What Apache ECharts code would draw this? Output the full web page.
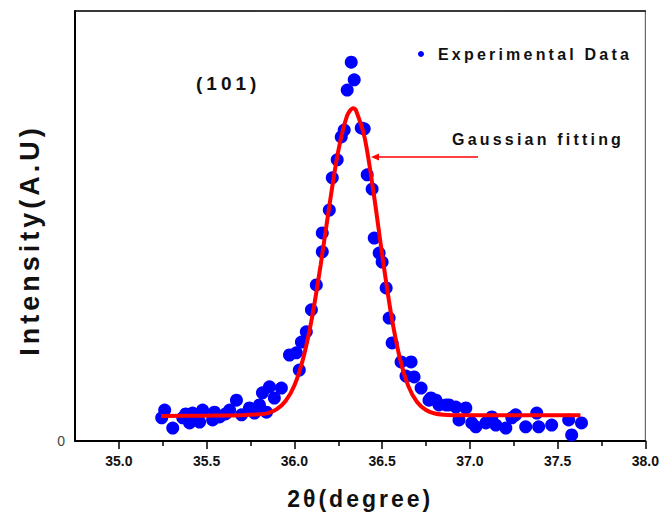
<!DOCTYPE html>
<html>
<head>
<meta charset="utf-8">
<script src="https://cdn.jsdelivr.net/npm/echarts@6/dist/echarts.min.js"></script>
<style>
  html, body { margin: 0; padding: 0; background: #fff; }
  #main { width: 662px; height: 515px; }
  /* Origin-style wide lettering */
  #main text[style*="16px"] { letter-spacing: 3.2px; }
  #main text[style*="23px"] { letter-spacing: 3px; }
  #main text[style*="27px"] { letter-spacing: 4px; }
  #main text[style*="19px"] { letter-spacing: 4px; }
</style>
</head>
<body>
<div id="main"></div>
<script>
// experimental points (2theta, intensity)
var expX = [35.244, 35.261, 35.307, 35.364, 35.381, 35.403, 35.420, 35.460, 35.477, 35.534,
    35.545, 35.574, 35.608, 35.631, 35.670, 35.699, 35.744, 35.773, 35.801, 35.818,
    35.841, 35.858, 35.886, 35.926, 35.972, 36.011, 36.028, 36.040, 36.068, 36.097,
    36.125, 36.159, 36.159, 36.199, 36.216, 36.244, 36.267, 36.284, 36.301, 36.324,
    36.341, 36.381, 36.398, 36.415, 36.443, 36.455, 36.483, 36.500, 36.523, 36.540,
    36.557, 36.608, 36.636, 36.665, 36.682, 36.722, 36.767, 36.778, 36.807, 36.824,
    36.864, 36.881, 36.920, 36.938, 36.977, 37.011, 37.034, 37.091, 37.125, 37.148,
    37.205, 37.239, 37.261, 37.318, 37.381, 37.392, 37.466, 37.563, 37.580, 37.636];
var expY = [5.4, 7.2, 3.0, 5.4, 6.3, 4.2, 6.5, 4.4, 7.2, 4.9,
    6.7, 5.6, 6.3, 7.2, 9.5, 6.1, 7.7, 6.5, 8.4, 11.2,
    6.7, 12.6, 10.0, 12.3, 20.0, 20.5, 16.5, 23.0, 25.4, 30.5,
    36.3, 44.0, 48.4, 53.7, 61.2, 65.4, 70.7, 72.3, 81.6, 88.1,
    84.0, 72.8, 72.6, 61.9, 58.6, 47.2, 43.7, 41.6, 35.6, 28.6,
    22.8, 18.4, 15.1, 18.4, 14.9, 12.3, 9.5, 10.0, 9.5, 8.4,
    8.4, 8.4, 7.9, 4.9, 7.7, 4.2, 3.3, 4.2, 5.6, 3.7,
    3.0, 5.4, 6.1, 3.3, 6.5, 3.3, 3.7, 4.9, 1.4, 4.2];

// gaussian fit curve
var fitX = [35.24, 35.5, 35.7, 35.8, 35.85, 35.9, 35.95, 36.0, 36.05, 36.1,
    36.15, 36.2, 36.25, 36.3, 36.335, 36.35, 36.4, 36.45, 36.5, 36.55,
    36.6, 36.65, 36.7, 36.75, 36.8, 36.85, 36.9, 37.0, 37.3, 37.63];
var fitY = [5.8, 5.9, 6.0, 6.2, 6.5, 7.4, 9.3, 12.9, 19.2, 28.6,
    41.0, 54.9, 67.4, 75.6, 77.4, 77.0, 70.6, 58.1, 43.4, 29.8,
    19.4, 12.7, 9.0, 7.2, 6.4, 6.1, 6.0, 6.0, 6.0, 6.0];

var xMajor = [35.0, 35.5, 36.0, 36.5, 37.0, 37.5, 38.0];
var xMinor = [35.25, 35.75, 36.25, 36.75, 37.25, 37.75];

var expData = expX.map(function (x, i) { return [x, expY[i]]; });
var fitData = fitX.map(function (x, i) { return [x, fitY[i]]; });

var FONT = "'Liberation Sans', Arial, sans-serif";

var chart = echarts.init(document.getElementById('main'), null, { renderer: 'svg' });
var option = {
    animation: false,
    grid: {
        left: 75, right: 14, top: 11, bottom: 74,
        show: true, borderColor: '#666', borderWidth: 1.2
    },
    legend: {
        data: ['Experimental Data'],
        left: 413, top: 41,
        icon: 'circle',
        itemWidth: 6, itemHeight: 6,
        itemGap: 0,
        textStyle: {
            fontFamily: FONT, fontWeight: 'bold', fontSize: 16, color: '#111',
            padding: [0, 0, 0, 9]
        }
    },
    xAxis: [{
        type: 'value',
        min: 34.75, max: 38,
        name: '2θ(degree)',
        nameLocation: 'middle',
        nameGap: 46,
        nameTextStyle: { fontFamily: FONT, fontWeight: 'bold', fontSize: 23, color: '#111' },
        axisLine: { onZero: false, lineStyle: { color: '#000', width: 2 } },
        axisTick: { show: true, length: 8, customValues: xMajor, lineStyle: { color: '#000', width: 1.5 } },
        axisLabel: {
            customValues: xMajor,
            margin: 13,
            fontFamily: FONT, fontWeight: 'bold', fontSize: 14, color: '#111',
            formatter: function (v) { return v.toFixed(1); }
        },
        splitLine: { show: false }
    }, {
        type: 'value',
        min: 34.75, max: 38,
        position: 'bottom',
        axisLine: { show: false },
        axisTick: { show: true, length: 5, customValues: xMinor, lineStyle: { color: '#000', width: 1.5 } },
        axisLabel: { show: false },
        splitLine: { show: false }
    }, {
        type: 'value',
        min: 34.75, max: 38,
        position: 'top',
        axisLine: { show: true, onZero: false, lineStyle: { color: '#111', width: 1.5 } },
        axisTick: { show: false },
        axisLabel: { show: false },
        splitLine: { show: false }
    }],
    yAxis: {
        type: 'value',
        min: 0, max: 100,
        axisLine: { show: true, lineStyle: { color: '#000', width: 2 } },
        axisTick: { show: false },
        axisLabel: {
            customValues: [0],
            margin: 10,
            fontFamily: FONT, fontSize: 14, color: '#444'
        },
        splitLine: { show: false }
    },
    graphic: [
        {
            type: 'text', left: 196, top: 74,
            style: { text: '(101)', font: "bold 19px 'Liberation Sans', Arial", fill: '#111' }
        },
        {
            type: 'text', left: 452, top: 131,
            style: { text: 'Gaussian fitting', font: "bold 16px 'Liberation Sans', Arial", fill: '#111' }
        },
        {
            type: 'text', x: 30, y: 240, rotation: Math.PI / 2,
            style: {
                text: 'Intensity(A.U)', font: "bold 27px 'Liberation Sans', Arial", fill: '#111',
                align: 'center', verticalAlign: 'middle'
            }
        },
        {
            type: 'line',
            shape: { x1: 478, y1: 157, x2: 378, y2: 157 },
            style: { stroke: '#ff0000', lineWidth: 1.5 }
        },
        {
            type: 'polygon',
            shape: { points: [[371, 157], [379, 153.5], [379, 160.5]] },
            style: { fill: '#ff0000' }
        }
    ],
    series: [
        {
            name: 'Experimental Data',
            type: 'scatter',
            data: expData,
            symbol: 'circle',
            symbolSize: 13,
            itemStyle: { color: '#0000ff', opacity: 1 },
            z: 2
        },
        {
            name: 'Gaussian fitting',
            type: 'line',
            data: fitData,
            showSymbol: false,
            smooth: 0.3,
            lineStyle: { color: '#ff0000', width: 4 },
            z: 3
        }
    ]
};
chart.setOption(option);
</script>
</body>
</html>
